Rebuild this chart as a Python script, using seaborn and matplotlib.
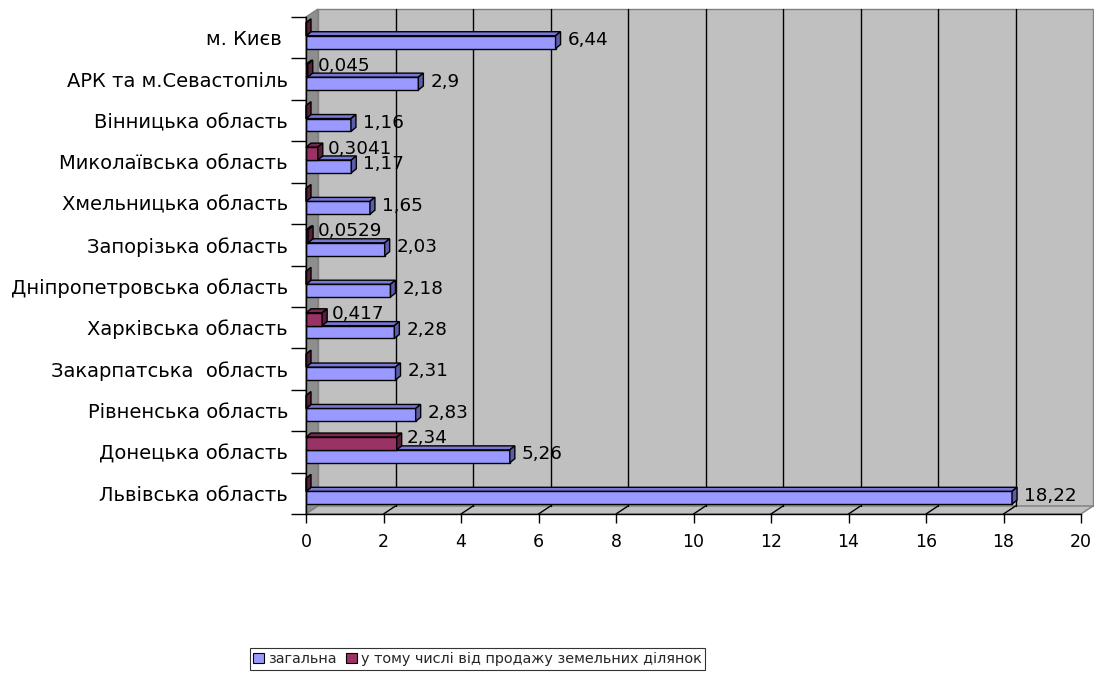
import numpy as np
import pandas as pd
import seaborn as sns
import matplotlib.pyplot as plt
from matplotlib.patches import Polygon, Patch

# Regions, listed top to bottom
regions = [
    "м. Києв ",
    "АРК та м.Севастопіль",
    "Вінницька область",
    "Миколаївська область",
    "Хмельницька область",
    "Запорізька область",
    "Дніпропетровська область",
    "Харківська область",
    "Закарпатська  область",
    "Рівненська область",
    "Донецька область",
    "Львівська область",
]
total = [6.44, 2.9, 1.16, 1.17, 1.65, 2.03, 2.18, 2.28, 2.31, 2.83, 5.26, 18.22]
land_sales = [0.0, 0.045, 0.0, 0.3041, 0.0, 0.0529, 0.0, 0.417, 0.0, 0.0, 2.34, 0.0]
series_names = ["загальна", "у тому числі від продажу земельних ділянок"]
x_ticks = list(range(0, 21, 2))

BLUE, BLUE_TOP, BLUE_SIDE = "#9999FF", "#7777D6", "#5C5CA8"
MAROON, MAROON_TOP, MAROON_SIDE = "#993366", "#7A2850", "#5A1D3B"
WALL, SIDE_WALL, WALL_EDGE = "#C0C0C0", "#8E8E8E", "#808080"

sns.set_theme(style="white")
plt.rcParams["font.family"] = ["DejaVu Sans"]

n = len(regions)
df = pd.DataFrame({
    "region": regions * 2,
    "value": total + land_sales,
    "series": [series_names[0]] * n + [series_names[1]] * n,
})

W, H = 1094, 678
x0_px, x1_px = 306, 1081
top_px, floor_px = 17, 514
fig = plt.figure(figsize=(W / 100, H / 100), dpi=100)
ax = fig.add_axes([x0_px / W, 1 - floor_px / H, (x1_px - x0_px) / W, (floor_px - top_px) / H])

hue_order = [series_names[1], series_names[0]]
palette = {series_names[0]: BLUE, series_names[1]: MAROON}
sns.barplot(data=df, y="region", x="value", hue="series", hue_order=hue_order,
            order=regions, palette=palette, orient="h", width=0.62, saturation=1,
            edgecolor="black", linewidth=1, legend=False, errorbar=None, ax=ax)

xmax = x_ticks[-1]
ax.set_xlim(0, xmax)
ax.set_ylim(n - 0.5, -0.5)
ax.set_xlabel("")
ax.set_ylabel("")
ax.patch.set_visible(False)

# pixel depths converted to data units
ppx = (x1_px - x0_px) / xmax
ppy = (floor_px - top_px) / n
wdx, wdy = 12 / ppx, 8 / ppy       # wall depth
bdx, bdy = 5 / ppx, 4 / ppy        # bar depth
shift_y = 2 / ppy                  # bars sit slightly above band centre

yb, yt = n - 0.5, -0.5
# back wall
ax.add_patch(Polygon([(wdx, yb - wdy), (xmax + wdx, yb - wdy), (xmax + wdx, yt - wdy), (wdx, yt - wdy)],
                     closed=True, facecolor=WALL, edgecolor=WALL_EDGE, lw=1, zorder=0.3, clip_on=False))
# side wall
ax.add_patch(Polygon([(0, yb), (0, yt), (wdx, yt - wdy), (wdx, yb - wdy)],
                     closed=True, facecolor=SIDE_WALL, edgecolor=WALL_EDGE, lw=1, zorder=0.4, clip_on=False))
# floor
ax.add_patch(Polygon([(0, yb), (xmax, yb), (xmax + wdx, yb - wdy), (wdx, yb - wdy)],
                     closed=True, facecolor=WALL, edgecolor=WALL_EDGE, lw=1, zorder=0.4, clip_on=False))
# gridlines on the wall and floor
for t in x_ticks[1:-1]:
    ax.plot([t + wdx, t + wdx], [yb - wdy, yt - wdy], color="black", lw=1, zorder=0.5, clip_on=False)
    ax.plot([t, t + wdx], [yb, yb - wdy], color="black", lw=1, zorder=0.5, clip_on=False)

# 3D faces and value labels
styles = {
    series_names[0]: (BLUE_TOP, BLUE_SIDE, total, 7, 0.0),
    series_names[1]: (MAROON_TOP, MAROON_SIDE, land_sales, 5, -3.0),
}
for name, cont in zip(hue_order, ax.containers):
    top_c, side_c, values, gap_px, dy_px = styles[name]
    for rect, v in zip(cont.patches, values):
        rect.set_y(rect.get_y() - shift_y)
        xl, w = rect.get_x(), rect.get_width()
        ytp, h = rect.get_y(), rect.get_height()
        xr = xl + w
        z = 3 + (n - (ytp + h / 2)) * 0.01
        rect.set_zorder(z)
        ax.add_patch(Polygon([(xl, ytp), (xl + bdx, ytp - bdy), (xr + bdx, ytp - bdy), (xr, ytp)],
                             closed=True, facecolor=top_c, edgecolor="black", lw=1, zorder=z, clip_on=False))
        ax.add_patch(Polygon([(xr, ytp), (xr + bdx, ytp - bdy), (xr + bdx, ytp + h - bdy), (xr, ytp + h)],
                             closed=True, facecolor=side_c, edgecolor="black", lw=1, zorder=z, clip_on=False))
        if v > 0:
            ax.text(xr + bdx + gap_px / ppx, ytp + h / 2 - bdy / 2 + dy_px / ppy,
                    f"{v:g}".replace(".", ","),
                    ha="left", va="center", fontsize=13.2, color="black", zorder=10)

# axes lines and ticks
for side in ("top", "right"):
    ax.spines[side].set_visible(False)
for side in ("left", "bottom"):
    ax.spines[side].set_color("black")
    ax.spines[side].set_linewidth(1)
    ax.spines[side].set_zorder(5)
ax.set_xticks(x_ticks)
ax.set_xticklabels([str(t) for t in x_ticks])
ax.set_yticks(np.arange(-0.5, n, 1), minor=True)
ax.tick_params(axis="x", which="major", bottom=True, length=6.5, width=1, color="black",
               pad=7, labelsize=12.5, labelcolor="black")
ax.tick_params(axis="y", which="minor", left=True, length=10.8, width=1, color="black")
ax.tick_params(axis="y", which="major", left=True, length=0, pad=13, labelsize=14, labelcolor="black")

handles = [Patch(facecolor=BLUE, edgecolor="black", lw=0.8),
           Patch(facecolor=MAROON, edgecolor="black", lw=0.8)]
leg = fig.legend(handles, series_names, loc="center", bbox_to_anchor=(0.4365, 0.028), ncol=2,
                 frameon=True, fancybox=False, edgecolor="black", fontsize=10.4,
                 handlelength=0.75, handleheight=0.75, handletextpad=0.3, columnspacing=0.6,
                 borderpad=0.25, borderaxespad=0)
leg.get_frame().set_linewidth(0.8)

fig.savefig("out.png", dpi=100)
